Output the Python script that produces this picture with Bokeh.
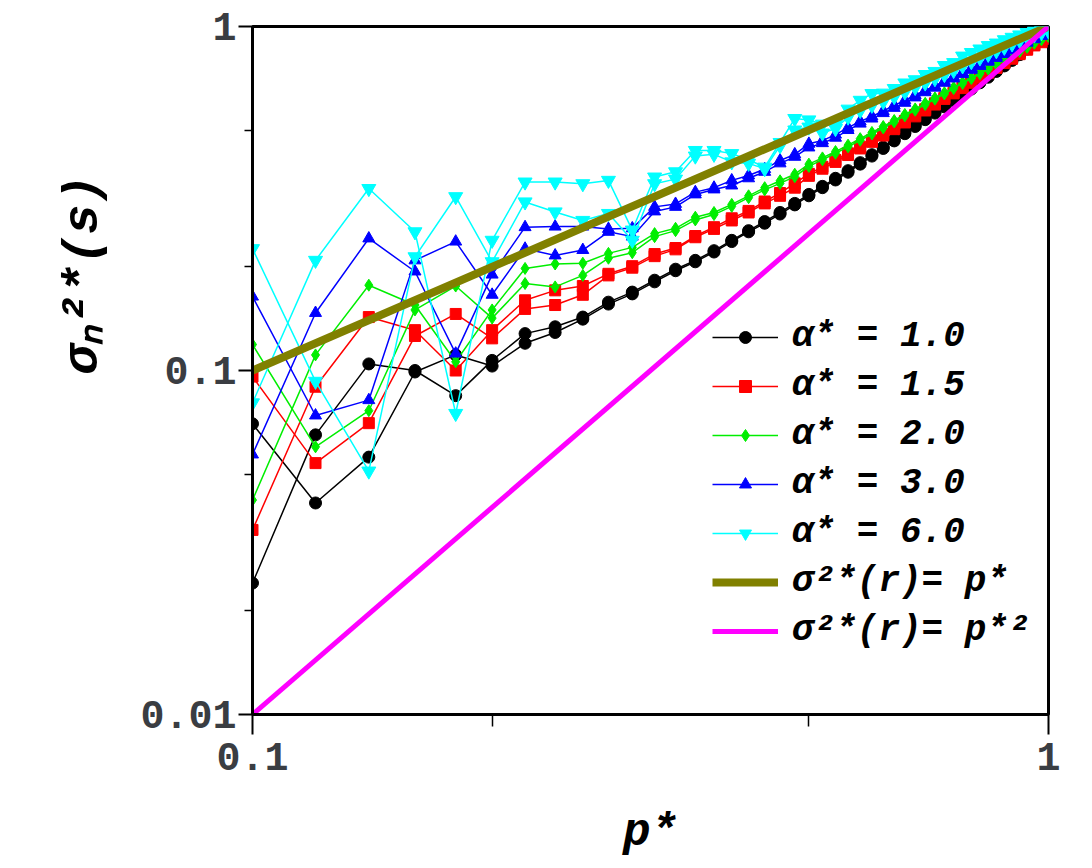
from bokeh.plotting import figure
from bokeh.models import (Legend, LegendItem, FixedTicker, Range1d,
                          CustomJSTickFormatter, Title)
from bokeh.embed import file_html
from bokeh.resources import INLINE

# p* grid shared by every measured curve
p_star = [
    0.10, 0.12, 0.14, 0.16, 0.18,
    0.20, 0.22, 0.24, 0.26, 0.28,
    0.30, 0.32, 0.34, 0.36, 0.38,
    0.40, 0.42, 0.44, 0.46, 0.48,
    0.50, 0.52, 0.54, 0.56, 0.58,
    0.60, 0.62, 0.64, 0.66, 0.68,
    0.70, 0.72, 0.74, 0.76, 0.78,
    0.80, 0.82, 0.84, 0.86, 0.88,
    0.90, 0.92, 0.94, 0.96, 0.98,
    1.00,
]

# sigma_n^2*(s) for each alpha*, two realisations (a, b) per alpha*
alpha_1_0_a = [
    0.070, 0.0412, 0.056, 0.099, 0.111,
    0.103, 0.120, 0.129, 0.141, 0.156,
    0.167, 0.181, 0.195, 0.207, 0.221,
    0.237, 0.253, 0.268, 0.285, 0.303,
    0.322, 0.340, 0.358, 0.377, 0.398,
    0.420, 0.442, 0.465, 0.488, 0.512,
    0.536, 0.560, 0.584, 0.608, 0.633,
    0.658, 0.686, 0.712, 0.740, 0.768,
    0.797, 0.828, 0.860, 0.892, 0.915,
    0.932,
]
alpha_1_0_b = [
    0.0241, 0.065, 0.1045, 0.100, 0.0845,
    0.107, 0.128, 0.134, 0.143, 0.158,
    0.169, 0.183, 0.197, 0.209, 0.223,
    0.239, 0.255, 0.271, 0.288, 0.306,
    0.325, 0.343, 0.362, 0.381, 0.402,
    0.424, 0.446, 0.469, 0.492, 0.516,
    0.540, 0.564, 0.588, 0.612, 0.637,
    0.663, 0.690, 0.716, 0.744, 0.772,
    0.801, 0.832, 0.864, 0.896, 0.918,
    0.935,
]
alpha_1_5_a = [
    0.096, 0.0538, 0.0703, 0.126, 0.146,
    0.124, 0.151, 0.155, 0.166, 0.189,
    0.199, 0.215, 0.225, 0.244, 0.258,
    0.273, 0.288, 0.306, 0.322, 0.340,
    0.368, 0.386, 0.404, 0.423, 0.442,
    0.462, 0.482, 0.503, 0.526, 0.548,
    0.570, 0.593, 0.616, 0.639, 0.662,
    0.686, 0.710, 0.734, 0.758, 0.783,
    0.806, 0.831, 0.856, 0.881, 0.900,
    0.920,
]
alpha_1_5_b = [
    0.0344, 0.0897, 0.143, 0.131, 0.100,
    0.131, 0.160, 0.171, 0.176, 0.191,
    0.201, 0.218, 0.227, 0.246, 0.261,
    0.277, 0.291, 0.310, 0.328, 0.350,
    0.373, 0.391, 0.409, 0.428, 0.447,
    0.467, 0.487, 0.508, 0.531, 0.553,
    0.575, 0.598, 0.621, 0.644, 0.667,
    0.691, 0.715, 0.739, 0.763, 0.788,
    0.811, 0.836, 0.861, 0.886, 0.905,
    0.925,
]
alpha_2_0_a = [
    0.119, 0.060, 0.0764, 0.150, 0.176,
    0.142, 0.179, 0.175, 0.189, 0.212,
    0.220, 0.245, 0.255, 0.274, 0.284,
    0.300, 0.318, 0.335, 0.350, 0.366,
    0.392, 0.410, 0.428, 0.447, 0.467,
    0.487, 0.507, 0.528, 0.550, 0.571,
    0.593, 0.615, 0.637, 0.660, 0.683,
    0.706, 0.729, 0.752, 0.776, 0.799,
    0.823, 0.846, 0.870, 0.894, 0.915,
    0.935,
]
alpha_2_0_b = [
    0.042, 0.111, 0.177, 0.155, 0.106,
    0.150, 0.198, 0.204, 0.205, 0.219,
    0.228, 0.250, 0.259, 0.279, 0.288,
    0.304, 0.322, 0.340, 0.356, 0.372,
    0.398, 0.415, 0.433, 0.452, 0.472,
    0.492, 0.512, 0.533, 0.555, 0.576,
    0.598, 0.620, 0.642, 0.665, 0.688,
    0.710, 0.733, 0.756, 0.780, 0.803,
    0.827, 0.850, 0.874, 0.898, 0.920,
    0.940,
]
alpha_3_0_a = [
    0.164, 0.074, 0.082, 0.209, 0.237,
    0.166, 0.226, 0.216, 0.224, 0.253,
    0.245, 0.290, 0.299, 0.325, 0.336,
    0.345, 0.362, 0.378, 0.400, 0.418,
    0.445, 0.458, 0.475, 0.500, 0.522,
    0.540, 0.560, 0.580, 0.600, 0.622,
    0.644, 0.664, 0.686, 0.706, 0.727,
    0.748, 0.768, 0.790, 0.810, 0.832,
    0.852, 0.875, 0.897, 0.918, 0.938,
    0.952,
]
alpha_3_0_b = [
    0.057, 0.147, 0.242, 0.194, 0.112,
    0.190, 0.261, 0.262, 0.262, 0.258,
    0.259, 0.299, 0.305, 0.330, 0.340,
    0.357, 0.369, 0.385, 0.408, 0.425,
    0.456, 0.466, 0.485, 0.508, 0.530,
    0.548, 0.568, 0.590, 0.610, 0.632,
    0.652, 0.672, 0.694, 0.714, 0.735,
    0.756, 0.776, 0.797, 0.818, 0.840,
    0.860, 0.882, 0.903, 0.924, 0.942,
    0.955,
]
alpha_6_0_a = [
    0.226, 0.093, 0.051, 0.214, 0.320,
    0.207, 0.309, 0.289, 0.273, 0.286,
    0.239, 0.349, 0.360, 0.420, 0.425,
    0.404, 0.400, 0.386, 0.450, 0.500,
    0.510, 0.490, 0.505, 0.545, 0.570,
    0.590, 0.605, 0.625, 0.645, 0.665,
    0.685, 0.705, 0.725, 0.745, 0.768,
    0.790, 0.810, 0.830, 0.850, 0.870,
    0.890, 0.910, 0.930, 0.945, 0.960,
    0.970,
]
alpha_6_0_b = [
    0.0805, 0.209, 0.338, 0.253, 0.075,
    0.239, 0.353, 0.353, 0.349, 0.357,
    0.256, 0.365, 0.378, 0.436, 0.436,
    0.427, 0.410, 0.390, 0.460, 0.540,
    0.535, 0.520, 0.520, 0.575, 0.610,
    0.638, 0.640, 0.660, 0.685, 0.700,
    0.725, 0.740, 0.770, 0.785, 0.820,
    0.840, 0.860, 0.880, 0.895, 0.915,
    0.930, 0.945, 0.960, 0.970, 0.975,
    0.980,
]

# reference laws sigma^2*(r) = p* and p*^2, given at the ends of the range
ref_p = [0.1, 1.0]
ref_linear = [0.1, 1.0]
ref_square = [0.01, 1.0]

legend_labels = ["α* = 1.0", "α* = 1.5", "α* = 2.0", "α* = 3.0", "α* = 6.0"]
series = [
    (alpha_1_0_a, alpha_1_0_b, "#000000", "circle", 12),
    (alpha_1_5_a, alpha_1_5_b, "#ff0000", "square", 11),
    (alpha_2_0_a, alpha_2_0_b, "#00ee00", "diamond", 12),
    (alpha_3_0_a, alpha_3_0_b, "#0000ff", "triangle", 12),
    (alpha_6_0_a, alpha_6_0_b, "#00ffff", "inverted_triangle", 14),
]

MONO = "Liberation Mono"

fig = figure(
    x_axis_type="log", y_axis_type="log",
    x_range=Range1d(0.1, 1.0), y_range=Range1d(0.01, 1.0),
    frame_width=796, frame_height=688,
    min_border_left=252, min_border_right=44,
    min_border_top=26, min_border_bottom=154,
    output_backend="svg", toolbar_location=None,
    background_fill_color="white", border_fill_color="white",
)
fig.xgrid.visible = False
fig.ygrid.visible = False
fig.outline_line_color = "black"
fig.outline_line_width = 3

items = []
for (ya, yb, col, mk, sz), lab in zip(series, legend_labels):
    la = fig.line(p_star, ya, line_color=col, line_width=1.5)
    fig.line(p_star, yb, line_color=col, line_width=1.5)
    sa = fig.scatter(p_star, ya, marker=mk, size=sz, fill_color=col, line_color=col)
    fig.scatter(p_star, yb, marker=mk, size=sz, fill_color=col, line_color=col)
    items.append(LegendItem(label=lab, renderers=[la, sa]))

r_lin = fig.line(ref_p, ref_linear, line_color="#808000", line_width=8)
r_sq = fig.line(ref_p, ref_square, line_color="#ff00ff", line_width=5)
items.append(LegendItem(label="σ²*(r)= p*", renderers=[r_lin]))
items.append(LegendItem(label="σ²*(r)= p*²", renderers=[r_sq]))

legend = Legend(
    items=items, location=(455, 58),
    label_text_font=MONO, label_text_font_style="bold italic",
    label_text_font_size="36px", label_text_color="black",
    glyph_width=66, glyph_height=30, label_height=40,
    spacing=8, padding=5, margin=0, label_standoff=14,
    border_line_alpha=0, background_fill_alpha=0,
)
fig.add_layout(legend)

fig.xaxis.ticker = FixedTicker(ticks=[0.1, 1.0], minor_ticks=[0.2, 0.5])
fig.yaxis.ticker = FixedTicker(ticks=[0.01, 0.1, 1.0], minor_ticks=[0.02, 0.05, 0.2, 0.5])

for ax in fig.xaxis + fig.yaxis:
    ax.formatter = CustomJSTickFormatter(code="return String(tick);")
    ax.axis_line_width = 3
    ax.axis_line_color = "black"
    ax.major_tick_line_width = 2
    ax.minor_tick_line_width = 1.5
    ax.major_tick_in = 0
    ax.minor_tick_in = 0
    ax.major_label_text_font = MONO
    ax.major_label_text_font_style = "bold"
    ax.major_label_text_font_size = "40px"
    ax.major_label_text_color = "#3a3d42"
    ax.axis_label_text_font = MONO
    ax.axis_label_text_font_style = "bold italic"
    ax.axis_label_text_font_size = "46px"
    ax.axis_label_text_color = "black"

fig.xaxis.major_tick_out = 20
fig.xaxis.minor_tick_out = 12
fig.xaxis.major_label_standoff = 8
fig.xaxis.axis_label = "p*"
fig.xaxis.axis_label_standoff = 34

fig.yaxis.major_tick_out = 14
fig.yaxis.minor_tick_out = 8
fig.yaxis.major_label_standoff = 2

# vertical quantity name in the left margin, pushed toward the top of the frame
y_title = Title(
    text="σₙ²*(s)", align="right", offset=148, standoff=52,
    text_font=MONO, text_font_style="bold italic", text_font_size="50px",
    text_color="black",
)
fig.add_layout(y_title, "left")

open("out.html", "w").write(file_html(fig, INLINE))
